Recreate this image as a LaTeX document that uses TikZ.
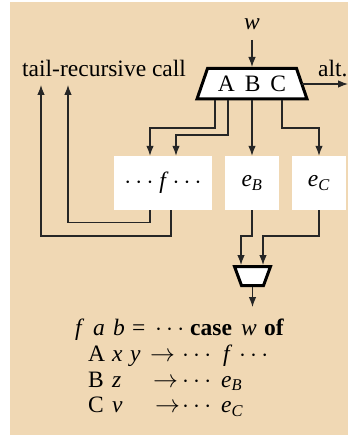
\documentclass[tikz,border=0pt]{standalone}
\usepackage{fontspec}
\setmainfont{Liberation Serif}
\usetikzlibrary{arrows.meta}
\definecolor{tan}{RGB}{240,216,180}
\begin{document}
\begin{tikzpicture}[x=1pt,y=-1pt,
  every node/.style={font=\fontsize{23.5}{28}\selectfont},
  txt/.style={anchor=base west,inner sep=0pt},
  conn/.style={line width=1.1pt,draw=black!85},
  arr/.style={conn,-{Latex[length=10pt,width=7.5pt]}},
  wbox/.style={fill=white,inner sep=0pt,minimum height=54pt},
  mux/.style={draw=black,line width=3pt,fill=white,line join=miter}]
\useasboundingbox (0,0) rectangle (348,435);
\fill[white] (0,0) rectangle (348,435);
\fill[tan] (10,2) rectangle (348,435);
% top multiplexer
\draw[mux] (207.5,68.5) -- (296.5,68.5) -- (307,99) -- (197,99) -- cycle;
\node[inner sep=0pt] (abc) at (252,84) {A\hspace{10pt}B\hspace{10pt}C};
\coordinate (mtop) at (252,67);
\coordinate (mright) at (302,84);
\coordinate (o1) at (215,100.5);
\coordinate (o2) at (228,100.5);
\coordinate (o3) at (252,100.5);
\coordinate (o4) at (282,100.5);
% labels
\node[inner sep=0pt] (w) at (252,24) {\textit{w}};
\node[txt] (alt) at (318,77) {alt.};
\node[txt] (tail) at (22,77) {tail-recursive call};
\coordinate (altend) at (348,84);
\coordinate (t1) at (41,85);
\coordinate (t2) at (68,85);
% boxes
\node[wbox,minimum width=98pt] (fb) at (163,183) {$\cdots$\ \textit{f}\,$\cdots$};
\node[wbox,minimum width=54pt] (eb) at (252,183) {\textit{e}\textsubscript{\textit{B}}};
\node[wbox,minimum width=54pt] (ec) at (319,183) {\textit{e}\textsubscript{\textit{C}}};
% bottom multiplexer
\draw[mux] (234.5,266.5) -- (270.5,266.5) -- (263.5,285.5) -- (241.5,285.5) -- cycle;
\coordinate (bin1) at (241,265);
\coordinate (bin2) at (263,265);
\coordinate (bout) at (252.5,287);
\coordinate (res) at (252.5,307);
% connectors
\draw[arr] (252,40) -- (mtop);
\draw[arr] (mright) -- (altend);
\draw[arr] (o1) |- (150,128) -- (150,0 |- fb.north);
\draw[arr] (o2) |- (176,135) -- (176,0 |- fb.north);
\draw[arr] (o3) -- (eb.north);
\draw[arr] (o4) |- (319,128) -- (ec.north);
\draw[arr] (150,0 |- fb.south) |- (68,222.5) -- (t2);
\draw[arr] (171,0 |- fb.south) |- (41,236) -- (t1);
\draw[arr] (eb.south) |- (241,236) -- (bin1);
\draw[arr] (ec.south) |- (263,236) -- (bin2);
\draw[arr] (bout) -- (res);
% program text
\node[txt] (l1f) at (75,335.5) {\textit{f}};
\node[txt] (l1a) at (93,335.5) {\textit{a}};
\node[txt] (l1b) at (113,335.5) {\textit{b}};
\node[txt] (l1eq) at (132,335.5) {=};
\node[txt] (l1d) at (155,335.5) {$\cdots$};
\node[txt] (l1c) at (190,335.5) {\textbf{case}};
\node[txt] (l1w) at (241,335.5) {\textit{w}};
\node[txt] (l1o) at (264,335.5) {\textbf{of}};
\node[txt] (l2A) at (88,361.5) {A};
\node[txt] (l2x) at (112,361.5) {\textit{x}};
\node[txt] (l2y) at (130,361.5) {\textit{y}};
\node[txt] (l2r) at (150,361.5) {$\rightarrow$};
\node[txt] (l2d) at (182,361.5) {$\cdots$};
\node[txt] (l2f) at (223,361.5) {\textit{f}};
\node[txt] (l2e) at (239,361.5) {$\cdots$};
\node[txt] (l3B) at (88,387) {B};
\node[txt] (l3z) at (112,387) {\textit{z}};
\node[txt] (l3r) at (153,387) {$\rightarrow$};
\node[txt] (l3d) at (182,387) {$\cdots$};
\node[txt] (l3e) at (221,387) {\textit{e}\textsubscript{\textit{B}}};
\node[txt] (l4C) at (88,412.5) {C};
\node[txt] (l4v) at (112,412.5) {\textit{v}};
\node[txt] (l4r) at (155,412.5) {$\rightarrow$};
\node[txt] (l4d) at (182,412.5) {$\cdots$};
\node[txt] (l4e) at (221,412.5) {\textit{e}\textsubscript{\textit{C}}};
\end{tikzpicture}
\end{document}
